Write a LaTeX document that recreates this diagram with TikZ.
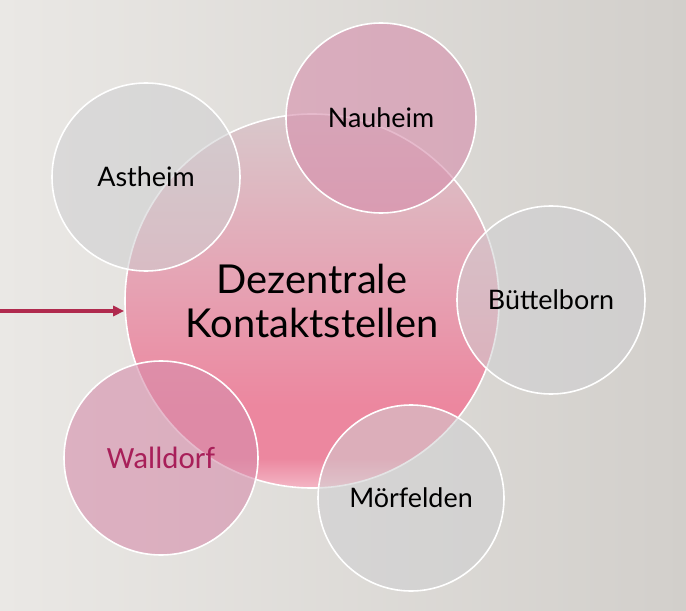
\documentclass[tikz,border=0pt]{standalone}
\usepackage{xcolor}
\usepackage{fontspec}
\setmainfont{Lato}
\newfontfamily\walldorffont{Carlito}
\usepackage{tikz}
\usetikzlibrary{arrows.meta,shapes,positioning}
\definecolor{bgleft}{HTML}{EAE8E5}
\definecolor{bgright}{HTML}{D2CFCB}
\definecolor{hubtop}{HTML}{D8C8CB}
\definecolor{hubmid}{HTML}{E6A2B3}
\definecolor{hublow}{HTML}{EC879F}
\definecolor{hubrim}{HTML}{F3B6C5}
\definecolor{sitegray}{HTML}{CFCFD1}
\definecolor{sitepink}{HTML}{D68DAB}
\definecolor{arrowred}{HTML}{B02A4E}
\definecolor{walldorfred}{HTML}{A81F59}
\pgfdeclareverticalshading{hubshading}{100bp}{color(0bp)=(hubrim); color(25bp)=(hubrim); color(29bp)=(hublow); color(36bp)=(hublow); color(52bp)=(hubmid); color(75bp)=(hubtop); color(100bp)=(hubtop)}

\begin{document}
\begin{tikzpicture}[
        x=0.5bp, y=-0.5bp,
        hub/.style={circle, draw=white, line width=0.8bp, shading=hubshading, minimum size=187bp, inner sep=0pt, align=center, font=\fontsize{20}{22.5}\selectfont},
        site/.style={circle, draw=white, line width=0.8bp, fill=sitegray, fill opacity=0.55, text opacity=1, minimum size=94bp, inner sep=0pt, font=\fontsize{13.5}{15}\selectfont},
        pinksite/.style={site, fill=sitepink, fill opacity=0.6}
    ]
        % Background
        \useasboundingbox (0,0) rectangle (686,611);
        \fill[left color=bgleft, right color=bgright] (0,0) rectangle (686,611);

        % Central circle
        \node[hub] (hub) at (312,301) {Dezentrale\\Kontaktstellen};

        % Surrounding places
        \node[site] (astheim) at (146,177) {Astheim};
        \node[pinksite, minimum size=95bp] (nauheim) at (381,118) {Nauheim};
        \node[site] (buettelborn) at (551,300) {Büttelborn};
        \node[site, minimum size=93bp] (moerfelden) at (411,498) {Mörfelden};
        \node[pinksite, minimum size=97bp, text=walldorfred, font=\walldorffont\fontsize{15.5}{17}\selectfont] (walldorf) at (161,458) {Walldorf};

        % Incoming arrow
        \coordinate (start) at (0,311);
        \draw[-{Triangle[length=5.5bp, width=5bp]}, line width=2bp, arrowred] (start) -- (start -| hub.west);
    \end{tikzpicture}
\end{document}
